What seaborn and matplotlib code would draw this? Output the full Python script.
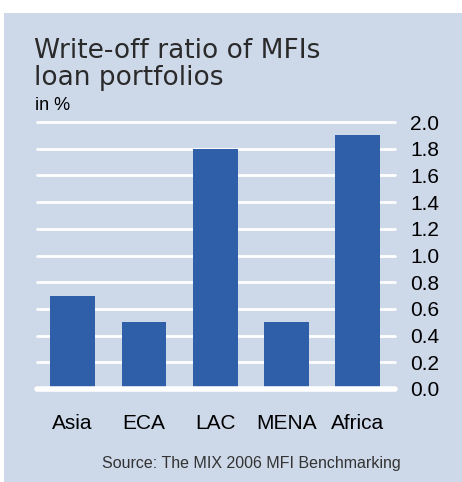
import matplotlib
matplotlib.use('agg')
import matplotlib.pyplot as plt
import seaborn as sns
import pandas as pd
from matplotlib.patches import Rectangle

sns.set_theme(style='white')
plt.rcParams['font.family'] = ['Liberation Sans', 'DejaVu Sans']

# --- data
regions = ['Asia', 'ECA', 'LAC', 'MENA', 'Africa']
ratios = [0.7, 0.5, 1.8, 0.5, 1.9]
y_ticks = [0.0, 0.2, 0.4, 0.6, 0.8, 1.0, 1.2, 1.4, 1.6, 1.8, 2.0]

panel_col = '#cdd8e9'
bar_col = '#2f5fa9'

W, H = 462, 482
fig = plt.figure(figsize=(W / 100, H / 100), dpi=100)
fig.patch.set_facecolor('white')

# --- light blue panel behind everything
fig.patches.append(Rectangle((4 / W, 0), 1, (H - 13) / H, transform=fig.transFigure,
                             facecolor=panel_col, edgecolor='none', zorder=-5))

ax = fig.add_axes([37 / W, 1 - 389 / H, (395 - 37) / W, (389 - 122) / H])
ax.set_facecolor('none')

df = pd.DataFrame({'region': regions, 'ratio': ratios})
sns.barplot(data=df, x='region', y='ratio', color=bar_col, saturation=1,
            width=0.63, linewidth=0, ax=ax, zorder=3)

ax.set_xlim(-0.5, 4.52)
ax.set_ylim(0, 2.0)
ax.set_yticks(y_ticks)
ax.set_yticklabels([f'{t:.1f}' for t in y_ticks])
ax.yaxis.tick_right()
ax.tick_params(axis='y', length=0, pad=11, labelsize=15, labelcolor='black')
ax.tick_params(axis='x', length=0, pad=18, labelsize=15, labelcolor='black')
ax.set_xlabel('')
ax.set_ylabel('')
for s in ax.spines.values():
    s.set_visible(False)

# --- white grid, heavier baseline
for t in y_ticks[1:]:
    ax.axhline(t, color='white', lw=2, zorder=1, clip_on=False)
ax.axhline(0, color='white', lw=4, solid_capstyle='round', zorder=4, clip_on=False)

# --- titles and source
fig.text(34 / W, 1 - 58 / H, 'Write-off ratio of MFIs', fontsize=19,
         family='DejaVu Sans', color='#2a2a2a', va='baseline')
fig.text(34 / W, 1 - 85 / H, 'loan portfolios', fontsize=19,
         family='DejaVu Sans', color='#2a2a2a', va='baseline')
fig.text(35 / W, 1 - 110 / H, 'in %', fontsize=13, color='black', va='baseline')
fig.text(251 / W, 1 - 468 / H, 'Source: The MIX 2006 MFI Benchmarking',
         fontsize=11.5, color='#333333', ha='center', va='baseline')

plt.savefig('out.png', dpi=100)
